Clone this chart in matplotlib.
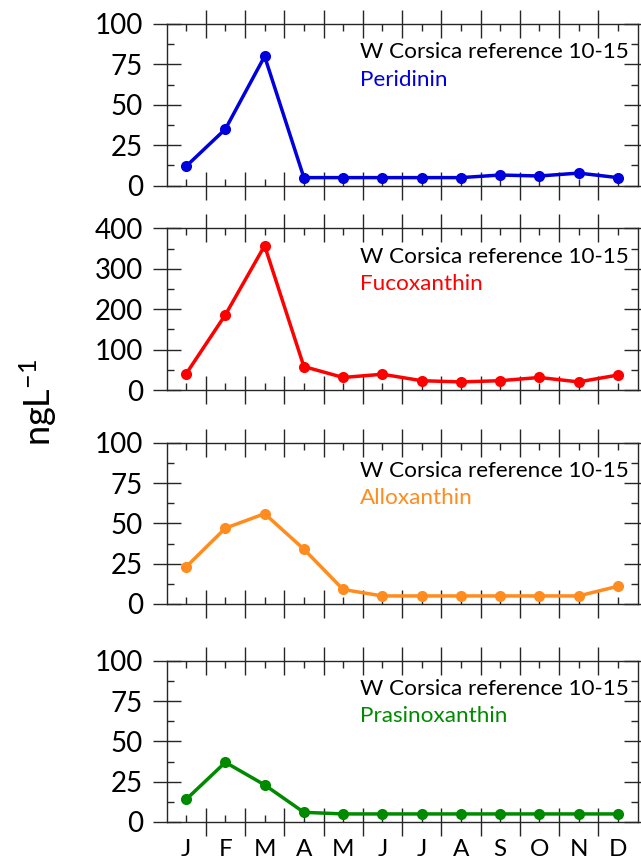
import matplotlib
matplotlib.use("Agg")
import matplotlib.pyplot as plt
from matplotlib.ticker import MultipleLocator, FixedLocator, NullFormatter, FixedFormatter
import numpy as np

plt.rcParams['font.family'] = ['Lato', 'DejaVu Sans']
plt.rcParams['mathtext.default'] = 'regular'

months = ['J', 'F', 'M', 'A', 'M', 'J', 'J', 'A', 'S', 'O', 'N', 'D']
station = 'W Corsica reference 10-15'

pigments = ['Peridinin', 'Fucoxanthin', 'Alloxanthin', 'Prasinoxanthin']
peridinin = [12, 35, 80, 5, 5, 5, 5, 5, 6.6, 6, 7.8, 5]
fucoxanthin = [40, 186, 357, 58, 31, 39, 23, 20, 23, 31, 20, 37]
alloxanthin = [23, 47, 56, 34, 9, 5, 5, 5, 5, 5, 5, 11]
prasinoxanthin = [14, 37, 23, 6, 5, 5, 5, 5, 5, 5, 5, 5]
series = [peridinin, fucoxanthin, alloxanthin, prasinoxanthin]
colors = ['#0000dd', '#ff0000', '#ff8c1e', '#008a00']
ymax = [100, 400, 100, 100]
ystep = [25, 100, 25, 25]

W, H = 641, 861
fig = plt.figure(figsize=(W / 100, H / 100), dpi=100)

tops = [24, 228.3, 442.7, 660.7]
bottoms = [185.7, 390, 604, 822]
left_px, right_px = 166.5, 637.5

axc = '#262626'
x = np.arange(1, 13)
for i in range(4):
    ax = fig.add_axes([left_px / W, 1 - bottoms[i] / H,
                       (right_px - left_px) / W, (bottoms[i] - tops[i]) / H])
    ax.plot(x, series[i], color=colors[i], lw=2.5, marker='o', ms=8,
            markeredgewidth=0, clip_on=False, zorder=3)
    ax.set_xlim(0.5, 12.5)
    ax.set_ylim(0, ymax[i])
    ax.yaxis.set_major_locator(MultipleLocator(ystep[i]))
    ax.yaxis.set_minor_locator(MultipleLocator(ystep[i] / 2))
    ax.xaxis.set_major_locator(FixedLocator(np.arange(1.5, 12.5, 1)))
    ax.xaxis.set_minor_locator(FixedLocator(x))
    ax.xaxis.set_major_formatter(NullFormatter())
    if i == 3:
        ax.xaxis.set_minor_formatter(FixedFormatter(months))
    else:
        ax.xaxis.set_minor_formatter(NullFormatter())
    for s in ax.spines.values():
        s.set_color(axc)
        s.set_linewidth(1.0)
    ax.tick_params(which='major', direction='inout', length=20, width=1.0,
                   color=axc, top=True, right=True, labelsize=20, pad=7)
    ax.tick_params(which='minor', direction='in', length=5, width=1.0,
                   color=axc, top=True, right=True, labelsize=17.5, pad=12)
    ax.text(0.41, 0.787, station, transform=ax.transAxes, ha='left',
            va='baseline', fontsize=16.2, color='black')
    ax.text(0.41, 0.618, pigments[i], transform=ax.transAxes, ha='left',
            va='baseline', fontsize=16.2, color=colors[i])

fig.text(38 / W, 1 - 402 / H, 'ngL$^{-1}$', rotation=90, ha='center',
         va='center', fontsize=26)

fig.savefig('out.png', dpi=100)
